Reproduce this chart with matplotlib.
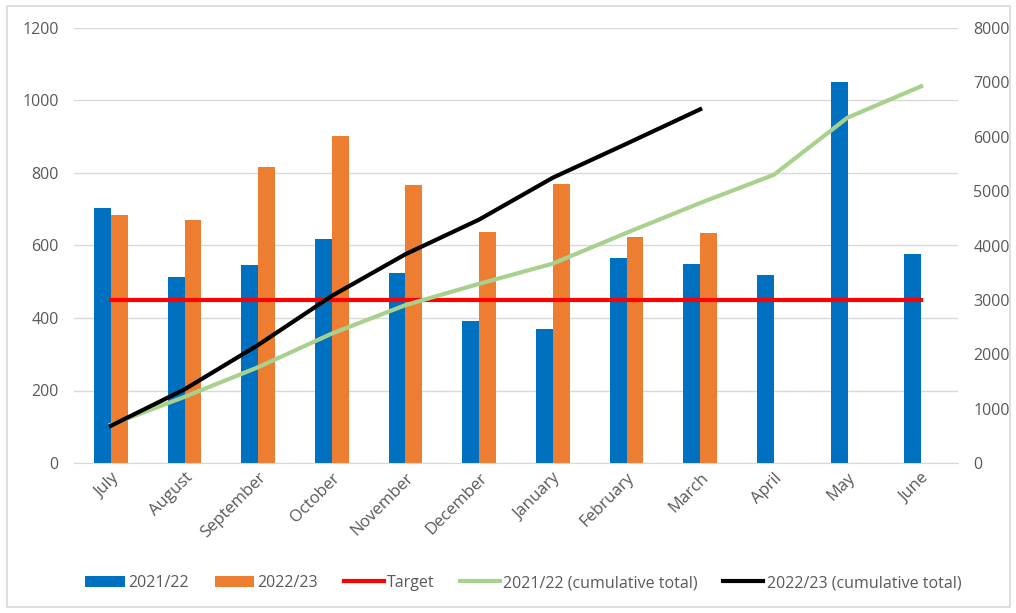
import matplotlib
matplotlib.use("Agg")
import matplotlib.pyplot as plt
import numpy as np
from matplotlib.patches import Rectangle

months = ["July", "August", "September", "October", "November", "December",
          "January", "February", "March", "April", "May", "June"]
y2122 = [703, 513, 546, 618, 524, 392, 371, 566, 549, 518, 1051, 577]
y2223 = [684, 670, 817, 902, 767, 637, 770, 624, 634]
target = [450] * 12
cum2122 = [703, 1216, 1762, 2380, 2904, 3296, 3667, 4233, 4782, 5300, 6351, 6928]
cum2223 = [684, 1354, 2171, 3073, 3840, 4477, 5247, 5871, 6505]

plt.rcParams["font.family"] = ["Open Sans", "DejaVu Sans"]
grey = "#595959"

fig = plt.figure(figsize=(10.16, 6.13), dpi=100)
ax = fig.add_axes([74 / 1016, 1 - 463 / 613, (958 - 74) / 1016, (463 - 28) / 613])
fig.patches.append(Rectangle((7 / 1016, 6 / 613), 1003 / 1016, 601 / 613,
                             transform=fig.transFigure, fill=False,
                             edgecolor="#D9D9D9", lw=1.2))

x = np.arange(len(months))
w = 0.23
b1 = ax.bar(x - w / 2, y2122, w, color="#0070C0", label="2021/22", zorder=2)
b2 = ax.bar(x[:len(y2223)] + w / 2, y2223, w, color="#ED7D31", label="2022/23", zorder=2)
t, = ax.plot(x, target, color="#FF0000", lw=3, label="Target", zorder=3)

ax.set_xlim(-0.5, 11.5)
ax.set_ylim(0, 1200)
ax.set_yticks(range(0, 1201, 200))
ax.grid(axis="y", color="#D9D9D9", lw=1)
ax.set_axisbelow(True)
for s in ["top", "right", "left"]:
    ax.spines[s].set_visible(False)
ax.spines["bottom"].set_color("#D9D9D9")
ax.tick_params(axis="y", length=0, pad=11, labelsize=11.5, labelcolor=grey)
ax.tick_params(axis="x", length=0, pad=5, labelsize=12, labelcolor=grey)
ax.set_xticks(x)
ax.set_xticklabels(months, rotation=45, ha="right", rotation_mode="anchor")

ax2 = ax.twinx()
ax2.set_ylim(0, 8000)
ax2.set_yticks(range(0, 8001, 1000))
g, = ax2.plot(x, cum2122, color="#A9D18E", lw=3, label="2021/22 (cumulative total)", zorder=3)
k, = ax2.plot(x[:len(cum2223)], cum2223, color="black", lw=3, label="2022/23 (cumulative total)", zorder=4)
for s in ["top", "right", "left", "bottom"]:
    ax2.spines[s].set_visible(False)
ax2.tick_params(axis="y", length=0, pad=11, labelsize=11.5, labelcolor=grey)

fig.legend([b1, b2, t, g, k],
           ["2021/22", "2022/23", "Target", "2021/22 (cumulative total)", "2022/23 (cumulative total)"],
           loc="center", bbox_to_anchor=(0.515, 1 - 583 / 613), ncol=5, frameon=False,
           fontsize=11.5, labelcolor=grey, handlelength=2.5, handletextpad=0.2, columnspacing=1.6)

fig.savefig("out.png", dpi=100)
